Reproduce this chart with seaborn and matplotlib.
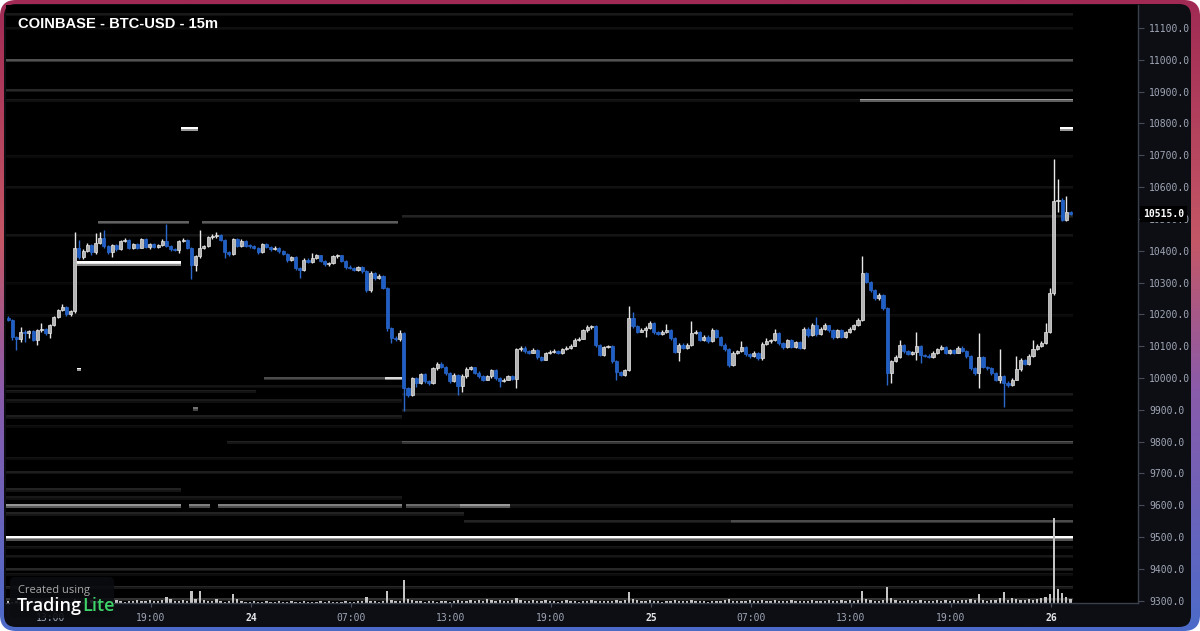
import numpy as np
import matplotlib
matplotlib.use("Agg")
import matplotlib.pyplot as plt
import seaborn as sns
from matplotlib.patches import FancyBboxPatch
from matplotlib.colors import LinearSegmentedColormap

# 15m candles, BTC-USD (open of each candle = previous close)
first_open = 10190
closes = [
    10182, 10128, 10122, 10145, 10140, 10147, 10120, 10150, 10155, 10140, 10165, 10192, 10213, 10224, 10200, 10210,
    10408, 10380, 10400, 10418, 10395, 10423, 10440, 10415, 10395, 10418, 10405, 10430, 10435, 10410, 10420, 10410,
    10436, 10413, 10420, 10412, 10418, 10432, 10415, 10405, 10402, 10430, 10435, 10410, 10355, 10382, 10408, 10415,
    10442, 10445, 10450, 10435, 10397, 10390, 10437, 10416, 10432, 10416, 10415, 10408, 10395, 10420, 10412, 10405,
    10408, 10398, 10390, 10370, 10380, 10345, 10340, 10372, 10365, 10378, 10385, 10368, 10357, 10360, 10382, 10385,
    10368, 10350, 10345, 10340, 10348, 10335, 10275, 10330, 10314, 10322, 10283, 10157, 10127, 10122, 10140, 9968,
    9947, 9999, 9985, 10012, 9990, 9984, 10030, 10045, 10035, 10015, 9990, 10010, 9975, 10005, 10028, 10033,
    10017, 10005, 9995, 10005, 10025, 10000, 9990, 9995, 10005, 9998, 10090, 10095, 10085, 10080, 10088, 10065,
    10058, 10078, 10083, 10086, 10080, 10090, 10095, 10102, 10120, 10124, 10150, 10160, 10163, 10104, 10073, 10097,
    10100, 10052, 10020, 10010, 10025, 10188, 10162, 10146, 10152, 10158, 10172, 10143, 10138, 10145, 10150, 10125,
    10083, 10105, 10095, 10105, 10140, 10145, 10120, 10130, 10115, 10150, 10130, 10105, 10090, 10040, 10080, 10085,
    10098, 10075, 10068, 10080, 10062, 10108, 10115, 10118, 10140, 10110, 10098, 10118, 10098, 10112, 10095, 10155,
    10135, 10165, 10137, 10155, 10165, 10150, 10130, 10150, 10130, 10143, 10155, 10165, 10183, 10329, 10303, 10277,
    10250, 10262, 10220, 10015, 10052, 10067, 10104, 10085, 10075, 10082, 10100, 10073, 10070, 10066, 10080, 10090,
    10098, 10080, 10088, 10080, 10095, 10085, 10068, 10030, 10015, 10067, 10035, 10030, 10015, 9995, 10005, 9985,
    9978, 9995, 10027, 10057, 10045, 10070, 10090, 10102, 10110, 10145, 10266, 10555, 10560, 10497, 10522, 10515,
]
# wick length above / below the body
upper_wick = [
    5, 3, 4, 16, 5, 4, 3, 3, 17, 3, 4, 4, 5, 8, 3, 4,
    50, 26, 4, 6, 3, 32, 18, 25, 3, 4, 3, 5, 6, 3, 4, 3,
    5, 3, 4, 3, 4, 5, 51, 3, 3, 4, 5, 3, 3, 4, 57, 4,
    5, 6, 10, 3, 3, 3, 4, 3, 4, 3, 4, 3, 3, 5, 3, 4,
    6, 3, 4, 3, 4, 3, 4, 5, 4, 15, 4, 3, 3, 4, 5, 4,
    3, 3, 4, 3, 5, 3, 4, 5, 3, 5, 3, 3, 4, 4, 11, 4,
    3, 5, 3, 5, 3, 4, 5, 6, 5, 3, 3, 5, 3, 6, 5, 5,
    3, 4, 3, 5, 4, 3, 3, 5, 4, 3, 4, 6, 4, 3, 5, 3,
    3, 5, 4, 4, 3, 5, 6, 4, 5, 4, 5, 6, 5, 3, 3, 4,
    5, 3, 4, 3, 4, 39, 18, 4, 5, 4, 6, 3, 4, 5, 20, 3,
    3, 4, 4, 5, 40, 5, 3, 5, 4, 6, 3, 3, 4, 3, 5, 4,
    17, 3, 4, 5, 3, 5, 12, 5, 15, 4, 3, 5, 3, 5, 3, 5,
    4, 7, 28, 5, 8, 3, 3, 5, 3, 4, 5, 4, 5, 55, 4, 3,
    4, 5, 3, 4, 5, 4, 14, 3, 4, 4, 43, 3, 3, 4, 5, 4,
    5, 3, 4, 3, 5, 4, 3, 3, 4, 73, 3, 4, 3, 3, 85, 4,
    4, 5, 41, 5, 4, 5, 30, 6, 5, 27, 17, 132, 67, 5, 50, 3,
]
lower_wick = [
    4, 8, 34, 8, 26, 15, 4, 15, 6, 6, 13, 3, 3, 4, 5, 6,
    7, 6, 5, 3, 8, 4, 3, 5, 6, 14, 5, 3, 4, 5, 6, 4,
    3, 4, 8, 5, 3, 3, 4, 5, 4, 10, 3, 4, 44, 19, 5, 3,
    3, 4, 4, 5, 21, 6, 3, 4, 3, 4, 5, 4, 6, 3, 4, 5,
    4, 5, 3, 6, 3, 5, 26, 4, 5, 3, 4, 5, 6, 4, 3, 4,
    5, 6, 4, 5, 3, 5, 5, 4, 5, 3, 4, 8, 17, 5, 7, 73,
    8, 4, 12, 4, 5, 6, 3, 4, 5, 6, 5, 4, 28, 20, 4, 3,
    5, 4, 6, 3, 4, 5, 17, 4, 3, 5, 30, 4, 5, 4, 3, 5,
    6, 3, 4, 3, 5, 4, 3, 4, 3, 4, 3, 4, 5, 6, 5, 3,
    4, 6, 25, 5, 3, 4, 5, 4, 3, 22, 4, 5, 4, 3, 4, 5,
    6, 31, 4, 3, 4, 3, 5, 4, 5, 3, 4, 6, 4, 5, 3, 4,
    3, 5, 4, 3, 6, 4, 3, 4, 3, 5, 6, 4, 5, 3, 5, 4,
    5, 3, 4, 3, 4, 5, 6, 3, 5, 4, 3, 4, 3, 4, 5, 6,
    5, 4, 6, 37, 31, 3, 4, 5, 4, 3, 25, 26, 5, 4, 3, 4,
    3, 5, 4, 5, 3, 4, 6, 5, 6, 47, 5, 4, 6, 5, 10, 75,
    5, 4, 3, 4, 5, 3, 4, 3, 4, 3, 4, 5, 32, 5, 4, 4,
]
volume = [
    2, 1, 2, 1, 1, 2, 1, 1, 2, 1, 1, 2, 2, 1, 2, 1,
    4, 2, 1, 2, 3, 2, 2, 1, 2, 2, 3, 2, 1, 2, 2, 3,
    2, 2, 3, 2, 2, 3, 6, 4, 2, 2, 3, 2, 12, 4, 12, 3,
    2, 2, 4, 2, 1, 2, 9, 4, 2, 1, 1, 2, 1, 1, 2, 1,
    1, 2, 1, 1, 2, 1, 1, 2, 1, 1, 1, 2, 1, 2, 1, 1,
    1, 2, 1, 1, 2, 2, 6, 2, 2, 1, 2, 12, 3, 2, 2, 23,
    4, 3, 2, 2, 1, 2, 2, 1, 2, 2, 1, 2, 3, 2, 2, 3,
    2, 3, 2, 4, 3, 2, 3, 2, 2, 3, 5, 3, 2, 2, 3, 2,
    2, 3, 2, 2, 1, 2, 3, 2, 2, 1, 2, 2, 3, 2, 2, 2,
    2, 2, 3, 2, 3, 11, 4, 3, 2, 2, 3, 2, 2, 1, 2, 2,
    3, 2, 2, 2, 3, 2, 2, 2, 1, 2, 2, 2, 3, 4, 2, 2,
    2, 2, 3, 2, 2, 3, 2, 2, 3, 2, 2, 2, 3, 2, 2, 2,
    2, 3, 2, 2, 2, 3, 2, 2, 3, 2, 3, 2, 3, 12, 4, 3,
    2, 2, 3, 16, 5, 3, 2, 2, 3, 2, 2, 3, 2, 2, 2, 3,
    2, 3, 2, 3, 2, 3, 3, 4, 3, 9, 3, 2, 3, 3, 5, 11,
    3, 5, 4, 3, 3, 4, 3, 4, 5, 6, 9, 85, 14, 10, 6, 4,
]

# order book liquidity bands: price level, first / last candle, intensity
book_price = [11145, 11100, 11000, 10905, 10875, 10875, 10785, 10785, 10700, 10600,
              10510, 10490, 10490, 10450, 10365, 10360, 10300, 10200, 10030, 10000,
              10000, 9975, 9960, 9950, 9930, 9905, 9900, 9880, 9850, 9800,
              9800, 9750, 9705, 9650, 9625, 9600, 9600, 9600, 9600, 9600,
              9600, 9575, 9550, 9550, 9500, 9495, 9470, 9440, 9400, 9385,
              9345, 9305]
book_start = [0, 0, 0, 0, 0, 205, 42, 253, 0, 0,
              95, 22, 47, 0, 17, 17, 0, 0, 17, 62,
              91, 0, 0, 95, 0, 45, 95, 0, 0, 53,
              95, 0, 0, 0, 0, 0, 44, 51, 96, 109,
              121, 0, 110, 174, 0, 0, 0, 0, 0, 0,
              0, 0]
book_end = [256, 256, 256, 256, 205, 256, 46, 256, 256, 256,
            256, 44, 94, 256, 42, 42, 256, 256, 18, 91,
            95, 95, 60, 256, 95, 46, 256, 95, 256, 95,
            256, 256, 256, 42, 95, 42, 49, 95, 109, 121,
            256, 110, 174, 256, 256, 256, 256, 256, 256, 256,
            256, 256]
book_level = [0.10, 0.06, 0.32, 0.16, 0.10, 0.62, 1.0, 1.0, 0.06, 0.07,
              0.14, 0.38, 0.36, 0.08, 1.0, 0.9, 0.05, 0.06, 1.0, 0.30,
              0.85, 0.08, 0.12, 0.10, 0.10, 0.45, 0.12, 0.12, 0.07, 0.14,
              0.34, 0.08, 0.12, 0.14, 0.10, 0.58, 0.50, 0.50, 0.42, 0.60,
              0.12, 0.14, 0.14, 0.30, 1.0, 0.55, 0.10, 0.09, 0.16, 0.08,
              0.16, 0.20]

price_ticks = list(range(9300, 11101, 100))
time_labels = ["13:00", "19:00", "24", "07:00", "13:00", "19:00", "25",
               "07:00", "13:00", "19:00", "26"]
last_price = 10515.0

# ---------------------------------------------------------------
sns.set_theme(style="dark")
plt.rcParams['font.family'] = ['Liberation Sans', 'DejaVu Sans']

W, H = 1200, 631
fig = plt.figure(figsize=(12, 6.31), dpi=100)
fig.patch.set_facecolor('white')

# gradient frame + dark panel
bg = fig.add_axes([0, 0, 1, 1])
bg.set_xlim(0, W)
bg.set_ylim(H, 0)
bg.axis('off')
border_cmap = LinearSegmentedColormap.from_list(
    'frame', [(0, '#a02a54'), (0.38, '#c45766'), (0.62, '#8a5bab'), (1, '#4c6bc9')])
im = bg.imshow(np.linspace(0, 1, 256).reshape(-1, 1), cmap=border_cmap,
               extent=(0, W, H, 0), aspect='auto')
clip = FancyBboxPatch((0, 0), W, H, boxstyle='round,pad=0,rounding_size=16',
                      fc='none', ec='none', transform=bg.transData)
bg.add_patch(clip)
im.set_clip_path(clip)
bg.add_patch(FancyBboxPatch((4, 4), 1187, 623, boxstyle='round,pad=0,rounding_size=12',
                            fc='#0c0e13', ec='none'))

pos = [6 / W, 1 - 603 / H, 1132 / W, 598 / H]
xmax = 271.7
n = len(closes)

# order book heatmap (each band is two rows thick, the lower one softer)
nrows = 376
book = np.zeros((nrows, n))
for p, c0, c1, lv in zip(book_price, book_start, book_end, book_level):
    r = int(round((11170 - p) / 5))
    book[r, c0:c1] = np.maximum(book[r, c0:c1], lv)
    if r + 1 < nrows:
        book[r + 1, c0:c1] = np.maximum(book[r + 1, c0:c1], lv * 0.6)

ax_heat = fig.add_axes(pos)
sns.heatmap(book, ax=ax_heat, cmap='gray', vmin=0, vmax=1, cbar=False,
            xticklabels=False, yticklabels=False)
ax_heat.set_facecolor('black')
ax_heat.set_xlim(0, xmax)
ax_heat.set_ylim(nrows, 0)
for s in ax_heat.spines.values():
    s.set_visible(False)

x = np.arange(n) + 0.5

# volume
ax_vol = fig.add_axes(pos)
ax_vol.set_facecolor('none')
ax_vol.bar(x, volume, width=0.55, color='#c4c4c4', linewidth=0)
ax_vol.set_xlim(0, xmax)
ax_vol.set_ylim(0, 598)
ax_vol.axis('off')

# candles
ax = fig.add_axes(pos)
ax.set_facecolor('none')
ax.grid(False)
o = np.array([first_open] + closes[:-1], dtype=float)
c = np.array(closes, dtype=float)
hi = np.maximum(o, c) + np.array(upper_wick)
lo = np.minimum(o, c) - np.array(lower_wick)
up = c >= o
body_col = np.where(up, '#b4b4b4', '#1f5ec4')
edge_col = np.where(up, '#e8e8e8', '#2a68cc')
ax.vlines(x, lo, hi, colors=edge_col, linewidth=1.0, zorder=2)
ax.bar(x, np.maximum(np.abs(c - o), 3), bottom=np.minimum(o, c), width=0.75,
       color=body_col, edgecolor=edge_col, linewidth=0.5, zorder=3)
ax.set_xlim(0, xmax)
ax.set_ylim(9292.5, 11172.5)

ax.yaxis.tick_right()
ax.set_yticks(price_ticks)
ax.set_yticklabels([f"{v}.0" for v in price_ticks])
ax.set_xticks([10.8 + 24 * k for k in range(len(time_labels))])
ax.set_xticklabels(time_labels)
for side in ['left', 'top']:
    ax.spines[side].set_visible(False)
for side in ['right', 'bottom']:
    ax.spines[side].set_visible(True)
    ax.spines[side].set_color('#3a3f4c')
    ax.spines[side].set_linewidth(1)
ax.tick_params(axis='y', length=4, width=0.8, color='#464b58', labelcolor='#a0a6b6',
               labelsize=7, pad=4, right=True, left=False)
ax.tick_params(axis='x', length=3, width=0.8, color='#464b58', labelcolor='#a0a6b6',
               labelsize=7, pad=4, bottom=True)
for lbl in ax.get_yticklabels() + ax.get_xticklabels():
    lbl.set_family('DejaVu Sans Mono')
for lbl in ax.get_xticklabels():
    if len(lbl.get_text()) == 2:
        lbl.set_color('#e6e6ea')
        lbl.set_fontweight('bold')

ax.text(xmax + 1.3, last_price, f"{last_price:.1f}", color='white', fontsize=7,
        fontweight='bold', family='DejaVu Sans Mono', ha='left', va='center',
        clip_on=False, zorder=6,
        bbox=dict(boxstyle='square,pad=0.3', fc='black', ec='none'))

# title + logo overlay (pixel coordinates)
ov = fig.add_axes([0, 0, 1, 1])
ov.set_xlim(0, W)
ov.set_ylim(H, 0)
ov.axis('off')
ov.text(18, 24, "COINBASE - BTC-USD - 15m", color='white', fontsize=10.6,
        fontweight='bold', ha='left', va='center')
ov.add_patch(FancyBboxPatch((10, 577), 104, 41, boxstyle='round,pad=0,rounding_size=5',
                            fc='#0b0c10', ec='none', alpha=0.88))
ov.text(18, 590, "Created using", color='#a9a9a9', fontsize=8, ha='left', va='center',
        family=['Open Sans', 'DejaVu Sans'])
t = ov.text(17, 606, "Trading", color='white', fontsize=13, fontweight='semibold',
            ha='left', va='center', family=['Open Sans', 'DejaVu Sans'])
fig.canvas.draw()
bb = t.get_window_extent()
ov.text(bb.x1, 606, "Lite", color='#3fd46a', fontsize=13, fontweight='semibold',
        ha='left', va='center', family=['Open Sans', 'DejaVu Sans'])

fig.savefig("out.png", dpi=100)
